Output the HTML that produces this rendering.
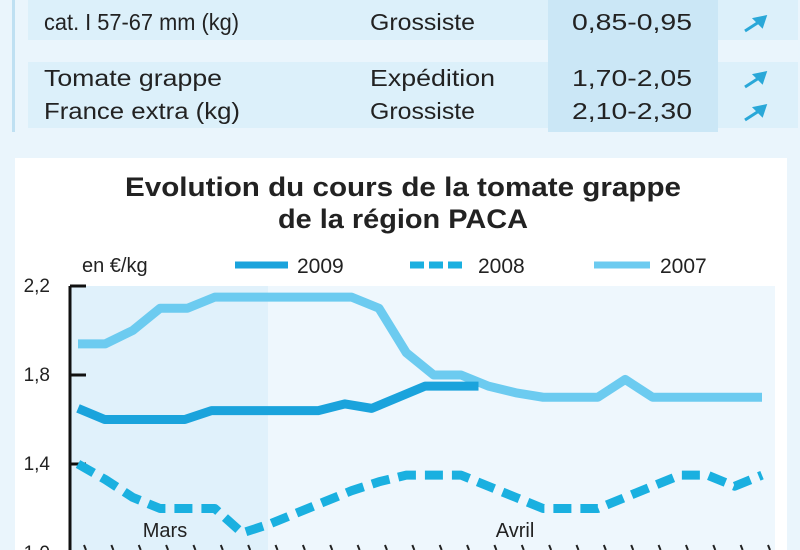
<!DOCTYPE html>
<html><head><meta charset="utf-8"><style>
body{margin:0;width:800px;height:550px;overflow:hidden;background:#e9f5fc;font-family:"Liberation Sans",sans-serif;}
svg{display:block}
</style></head><body>
<svg width="800" height="550" viewBox="0 0 800 550">
<rect x="0" y="0" width="800" height="550" fill="#eaf5fc"/>
<g>
<rect x="12" y="0" width="3" height="132" fill="#bfe0f2"/>
<rect x="28" y="0" width="770" height="40" fill="#dcf0fa"/>
<rect x="28" y="62" width="770" height="66" fill="#dcf0fa"/>
<rect x="548" y="0" width="170" height="132" fill="#cbe7f6"/>
<g font-size="23" fill="#222">
<text x="44" y="30" textLength="195" lengthAdjust="spacingAndGlyphs">cat. I 57-67 mm (kg)</text>
<text x="370" y="30" textLength="105" lengthAdjust="spacingAndGlyphs">Grossiste</text>
<text x="572" y="30" textLength="120" lengthAdjust="spacingAndGlyphs">0,85-0,95</text>
<text x="44" y="86" textLength="178" lengthAdjust="spacingAndGlyphs">Tomate grappe</text>
<text x="370" y="86" textLength="125" lengthAdjust="spacingAndGlyphs">Expédition</text>
<text x="572" y="86" textLength="120" lengthAdjust="spacingAndGlyphs">1,70-2,05</text>
<text x="44" y="119" textLength="196" lengthAdjust="spacingAndGlyphs">France extra (kg)</text>
<text x="370" y="119" textLength="105" lengthAdjust="spacingAndGlyphs">Grossiste</text>
<text x="572" y="119" textLength="120" lengthAdjust="spacingAndGlyphs">2,10-2,30</text>
</g>
<g stroke="#2aa8d8" stroke-width="3" fill="#2aa8d8">
<g><line x1="745" y1="31" x2="762" y2="20"/><polygon points="765,17 755,19 762,26"/></g>
<g><line x1="745" y1="87" x2="762" y2="76"/><polygon points="765,73 755,75 762,82"/></g>
<g><line x1="745" y1="120" x2="762" y2="109"/><polygon points="765,106 755,108 762,115"/></g>
</g>
</g>
<rect x="15" y="158" width="772" height="392" fill="#ffffff"/>
<text x="403" y="196" text-anchor="middle" font-size="27" font-weight="bold" fill="#222" textLength="556" lengthAdjust="spacingAndGlyphs">Evolution du cours de la tomate grappe</text>
<text x="403" y="228" text-anchor="middle" font-size="27" font-weight="bold" fill="#222" textLength="250" lengthAdjust="spacingAndGlyphs">de la région PACA</text>
<text x="82" y="272" font-size="20" fill="#222">en €/kg</text>
<g>
<line x1="235" y1="265" x2="288" y2="265" stroke="#1aa3dc" stroke-width="7"/>
<text x="297" y="273" font-size="21" fill="#222">2009</text>
<line x1="410" y1="265" x2="462" y2="265" stroke="#1ab0e0" stroke-width="7" stroke-dasharray="14 5"/>
<text x="478" y="273" font-size="21" fill="#222">2008</text>
<line x1="594" y1="265" x2="650" y2="265" stroke="#6ccbf0" stroke-width="7"/>
<text x="660" y="273" font-size="21" fill="#222">2007</text>
</g>
<rect x="70" y="286" width="705" height="264" fill="#eef7fd"/>
<rect x="70" y="286" width="198" height="264" fill="#e0f1fb"/>
<g id="chart"></g>
</svg>
<script>
const xLabels = ["Mars","Avril"];
const yTicks = [1.0,1.4,1.8,2.2];
const yTickLabels = ["1,0","1,4","1,8","2,2"];
const s2007 = [1.94,1.94,2.0,2.1,2.1,2.15,2.15,2.15,2.15,2.15,2.15,2.1,1.9,1.8,1.8,1.75,1.72,1.7,1.7,1.7,1.78,1.7,1.7,1.7,1.7,1.7];
const s2009 = [1.65,1.6,1.6,1.6,1.6,1.64,1.64,1.64,1.64,1.64,1.67,1.65,1.7,1.75,1.75,1.75];
const s2008 = [1.4,1.33,1.25,1.2,1.2,1.2,1.09,1.13,1.18,1.23,1.28,1.32,1.35,1.35,1.35,1.3,1.25,1.2,1.2,1.2,1.25,1.3,1.35,1.35,1.3,1.35];
const NS="http://www.w3.org/2000/svg";
const g=document.getElementById('chart');
const X=i=>78+i*26.7;
const Y=v=>553-(v-1.0)*222.5;
const X07=i=>78+i*27.36;
function mk(t,a){const e=document.createElementNS(NS,t);for(const k in a)e.setAttribute(k,a[k]);g.appendChild(e);return e;}
let ax=mk('line',{x1:70,y1:Y(2.2),x2:70,y2:550,stroke:'#111','stroke-width':3});


yTicks.forEach((v,i)=>{
  const t=mk('line',{x1:70,y1:Y(v),x2:86,y2:Y(v),stroke:'#111','stroke-width':3});
  
  
  const l=mk('text',{x:50,y:Y(v)+6,'text-anchor':'end','font-size':'19',fill:'#222'});
  l.textContent=yTickLabels[i];
  
  
});
for(let i=0;i<26;i++){
  const t=mk('line',{x1:X07(i)+6,y1:545,x2:X07(i)+8,y2:550,stroke:'#222','stroke-width':2});
  
  
}
[[xLabels[0],165],[xLabels[1],515]].forEach(([s,x])=>{
  const l=mk('text',{x:x,y:537,'text-anchor':'middle','font-size':'20',fill:'#222'});
  l.textContent=s;
  
  
});
function line(arr,color,dash,name,fx){
  const p=mk('polyline',{points:arr.map((v,i)=>fx(i)+','+Y(v)).join(' '),fill:'none',stroke:color,'stroke-width':9,'stroke-linejoin':'round'});
  if(dash)p.setAttribute('stroke-dasharray',dash);
  
  
}
line(s2007,'#6ccbf0',null,'series-2007',X07);
line(s2009,'#1aa3dc',null,'series-2009',X);
line(s2008,'#1ab0e0','18 9','series-2008',X07);
</script>
</body></html>
